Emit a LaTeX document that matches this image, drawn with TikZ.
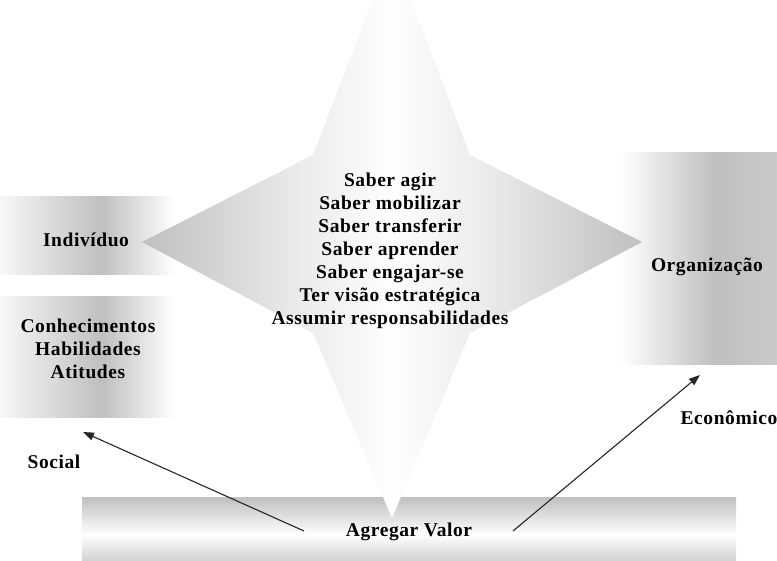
\documentclass[tikz,border=0pt]{standalone}
\usepackage{fontspec}
\setmainfont{Liberation Serif}[LetterSpace=3]
\usetikzlibrary{arrows.meta}

% grey tones used by the fades
\definecolor{fadeDark}{gray}{0.75}
\definecolor{fadeMid}{gray}{0.80}
\definecolor{fadeSoft}{gray}{0.86}
\definecolor{fadeLight}{gray}{0.925}
\definecolor{fadeFaint}{gray}{0.955}
\definecolor{fadeEdge}{gray}{0.97}

% side panels: white on the left, grey a little right of centre, white again
\pgfdeclarehorizontalshading{panelfade}{100bp}{%
  color(0bp)=(white); color(25bp)=(fadeEdge); color(54bp)=(fadeDark);
  color(75bp)=(white); color(100bp)=(white)}
% right panel: white, grey, then light grey at the page edge
\pgfdeclarehorizontalshading{orgfade}{100bp}{%
  color(0bp)=(white); color(25bp)=(white); color(53bp)=(fadeDark);
  color(75bp)=(fadeMid); color(100bp)=(fadeMid)}
% bottom bar: grey top and bottom, white band just below the middle
\pgfdeclareverticalshading{barfade}{100bp}{%
  color(0bp)=(fadeMid); color(25bp)=(fadeMid); color(47bp)=(white);
  color(75bp)=(fadeDark); color(100bp)=(fadeDark)}
% star: grey side tips, fading to white down the vertical axis
\pgfdeclarehorizontalshading{starfade}{100bp}{%
  color(0bp)=(fadeDark); color(25bp)=(fadeDark); color(35bp)=(fadeSoft);
  color(41bp)=(fadeLight); color(45bp)=(fadeFaint); color(50bp)=(white);
  color(55bp)=(fadeFaint); color(59bp)=(fadeLight); color(65bp)=(fadeSoft);
  color(75bp)=(fadeDark); color(100bp)=(fadeDark)}

\tikzset{
  lbl/.style={font=\fontsize{19.5}{23}\selectfont\bfseries, align=center,
              inner sep=0pt, text=black},
  flow/.style={line width=1.1pt, draw=black!85,
               -{Triangle[length=11pt,width=8pt]}},
}

\begin{document}
\begin{tikzpicture}[x=1pt,y=-1pt]
  \useasboundingbox (0,0) rectangle (777,561);
  \clip (0,0) rectangle (777,561);

  % shaded panels
  \path[shading=panelfade] (0,197) rectangle (175,275);
  \path[shading=panelfade] (0,297) rectangle (175,418);
  \path[shading=orgfade] (620,153) rectangle (790,365);
  \path[shading=barfade] (82,497) rectangle (736,564);

  % four-pointed star
  \path[shading=starfade]
    (392,-50) -- (470,155) -- (642,242) -- (470,333) -- (392,518)
    -- (313,333) -- (142,242) -- (313,155) -- cycle;

  % texts
  \node[lbl] (ind) at (86,240) {Indivíduo};
  \node[lbl] (cha) at (88,349) {Conhecimentos\\Habilidades\\Atitudes};
  \node[lbl] (org) at (707,267) {Organização};
  \node[lbl] (sab) at (390,251) {Saber agir\\Saber mobilizar\\Saber transferir\\Saber aprender\\Saber engajar-se\\Ter visão estratégica\\Assumir responsabilidades};
  \node[lbl] (val) at (409,532) {Agregar Valor};
  \node[lbl] (soc) at (54,462) {Social};
  \node[lbl] (eco) at (729,418) {Econômico};

  % arrows out of the bar
  \coordinate (socTail) at (304,531);
  \coordinate (socHead) at (83,432);
  \coordinate (ecoTail) at (513,531);
  \coordinate (ecoHead) at (700,375);
  \draw[flow] (socTail) -- (socHead);
  \draw[flow] (ecoTail) -- (ecoHead);
\end{tikzpicture}
\end{document}
